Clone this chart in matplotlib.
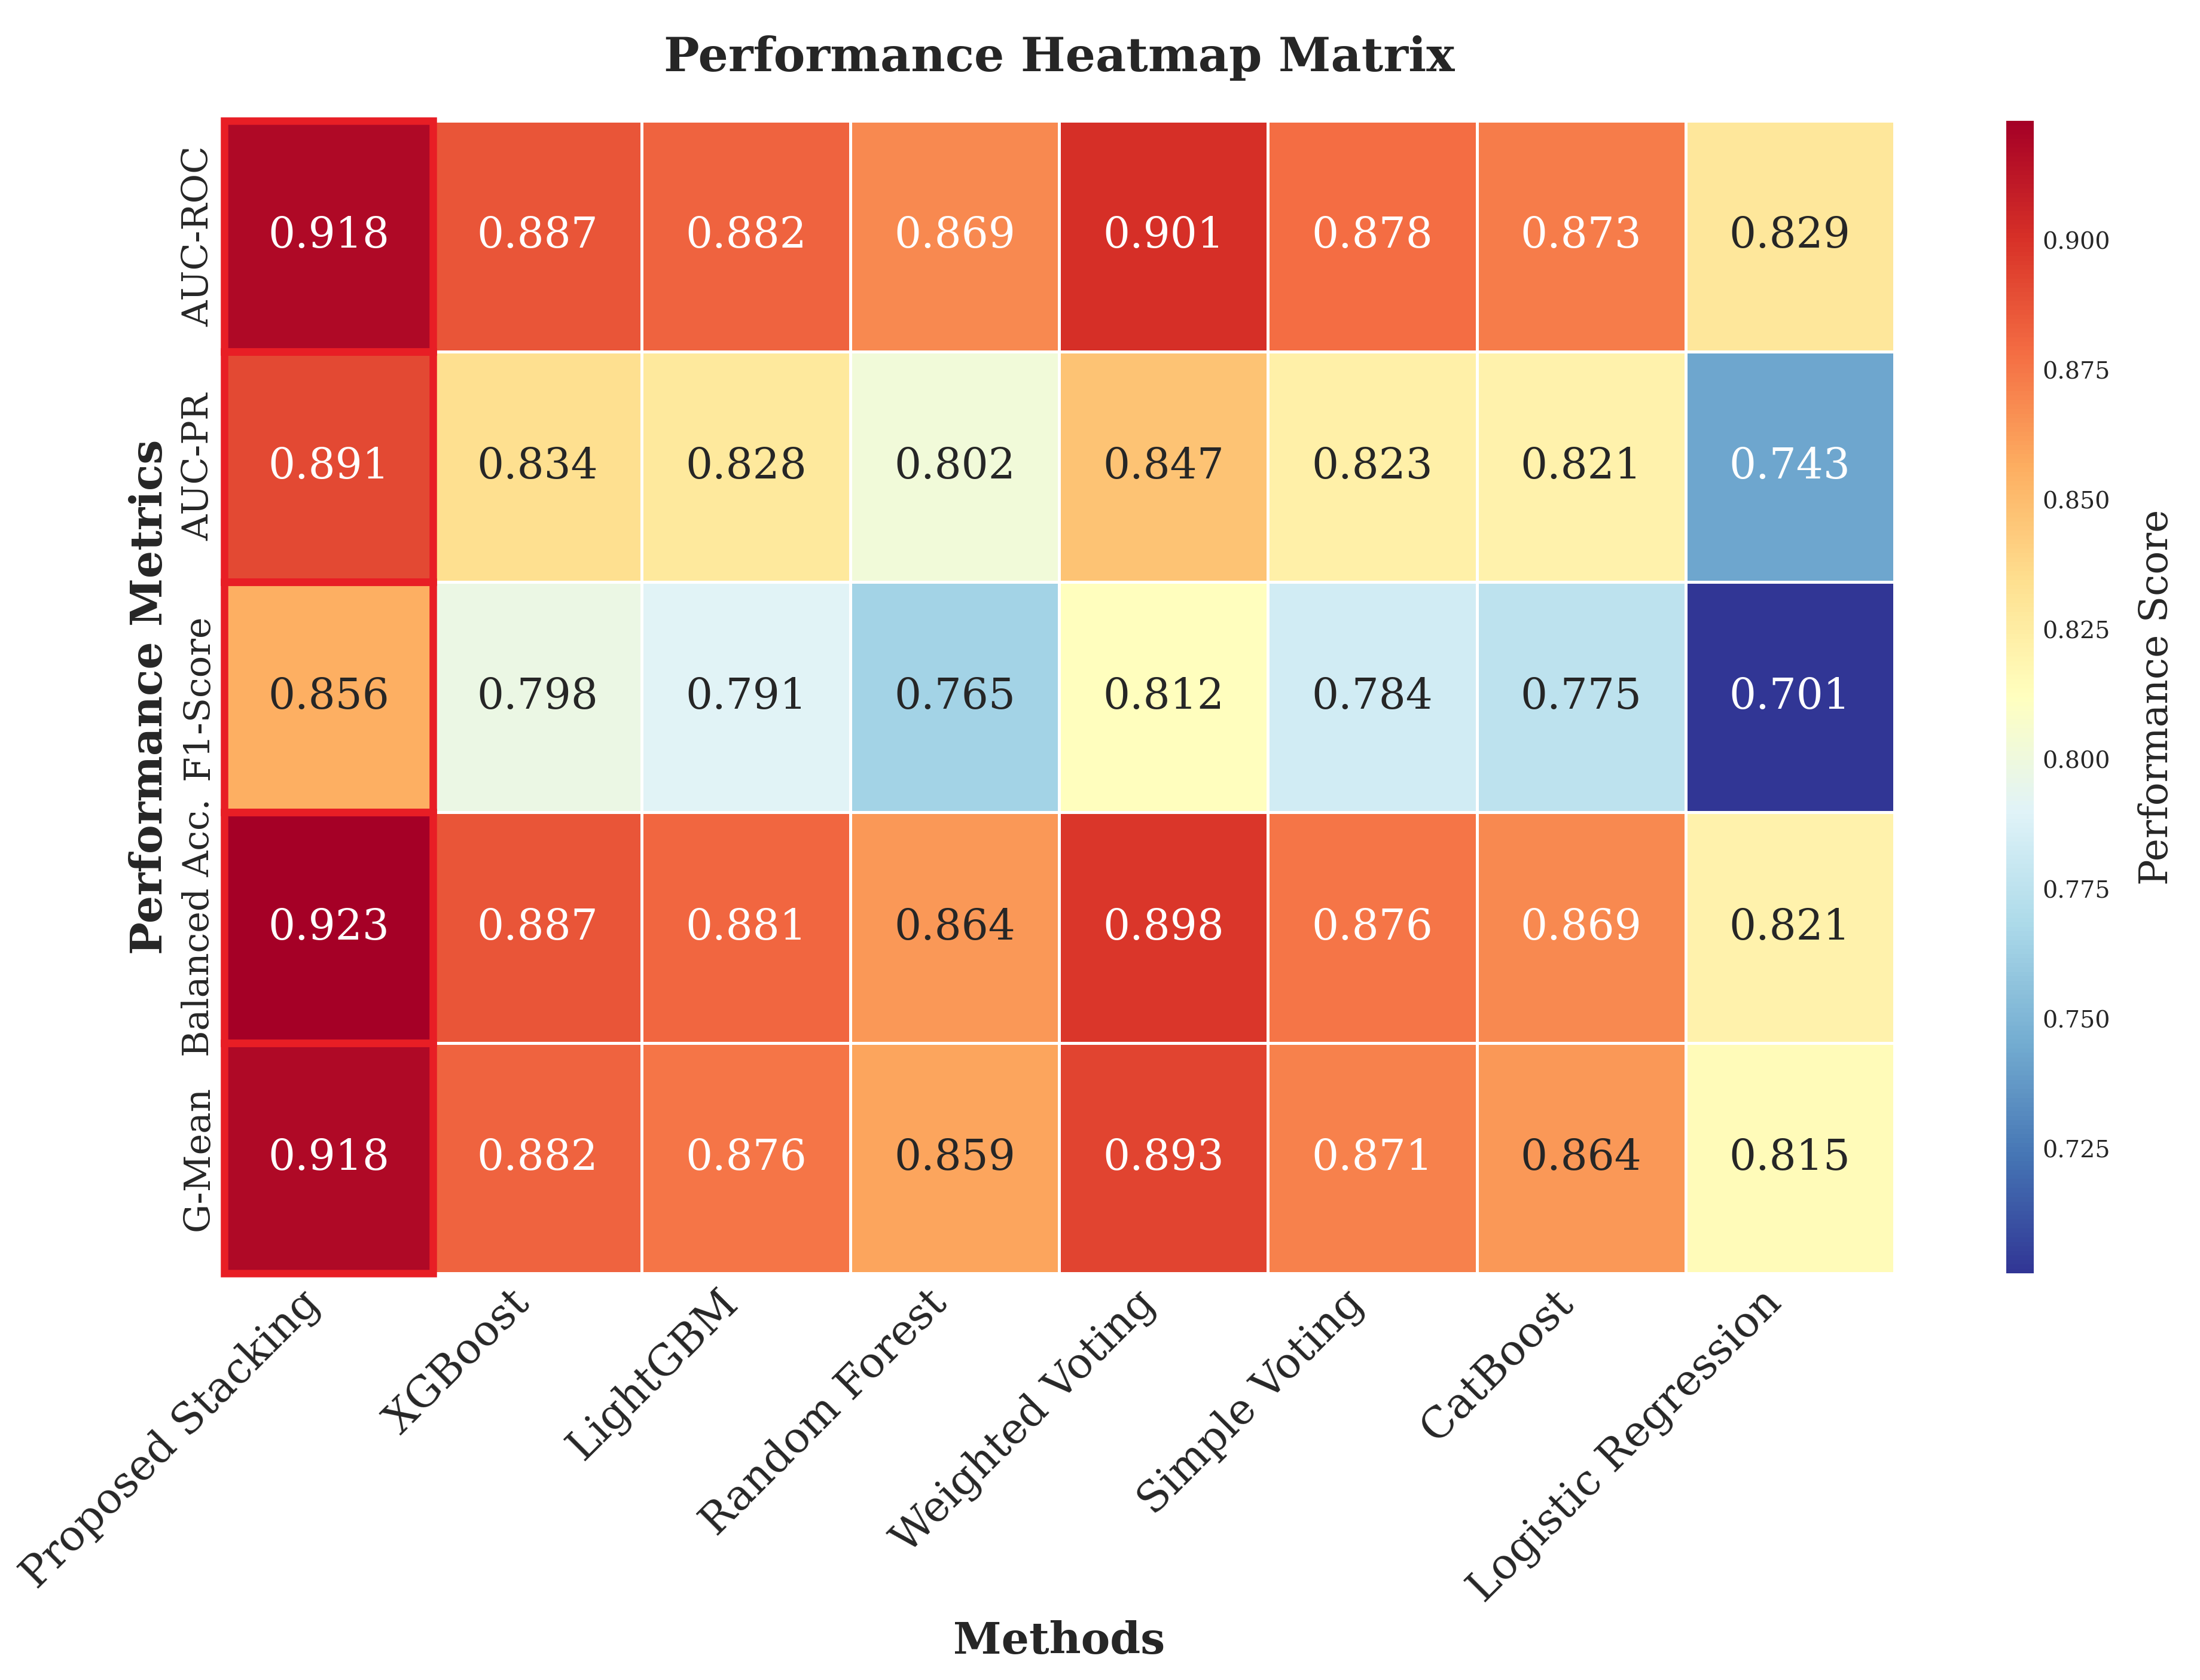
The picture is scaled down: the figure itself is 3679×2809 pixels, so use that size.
import numpy as np
import pandas as pd
import seaborn as sns
from matplotlib import pyplot as plt
from matplotlib.patches import Rectangle

# Data.
methods = ['Proposed Stacking', 'XGBoost', 'LightGBM', 'Random Forest',
           'Weighted Voting', 'Simple Voting', 'CatBoost', 'Logistic Regression']
metrics = ['AUC-ROC', 'AUC-PR', 'F1-Score', 'Balanced Acc.', 'G-Mean']
auc_roc = [0.918, 0.887, 0.882, 0.869, 0.901, 0.878, 0.873, 0.829]
auc_pr = [0.891, 0.834, 0.828, 0.802, 0.847, 0.823, 0.821, 0.743]
f1_score = [0.856, 0.798, 0.791, 0.765, 0.812, 0.784, 0.775, 0.701]
balanced_acc = [0.923, 0.887, 0.881, 0.864, 0.898, 0.876, 0.869, 0.821]
g_mean = [0.918, 0.882, 0.876, 0.859, 0.893, 0.871, 0.864, 0.815]

sns.set_style('white')
plt.rcParams['font.family'] = ['DejaVu Serif']

data = pd.DataFrame([auc_roc, auc_pr, f1_score, balanced_acc, g_mean],
                    index=metrics, columns=methods)

fig = plt.figure(figsize=(3679 / 300, 2809 / 300), dpi=300)
ax = fig.add_axes([0.102, 0.242, 0.759, 0.686])
cax = fig.add_axes([0.912, 0.242, 0.0125, 0.686])

sns.heatmap(data, ax=ax, cbar_ax=cax, cmap='RdYlBu_r', annot=True, fmt='.3f',
            annot_kws={'size': 17}, linewidths=0.8, linecolor='white')

# Highlight the proposed method column.
for i in range(len(metrics)):
    ax.add_patch(Rectangle((0, i), 1, 1, fill=False, edgecolor='#e81e25',
                           lw=3, clip_on=False))

ax.set_title('Performance Heatmap Matrix', fontsize=19, fontweight='bold', pad=20)
ax.set_xlabel('Methods', fontsize=17.5, fontweight='bold')
ax.set_ylabel('Performance Metrics', fontsize=17.5, fontweight='bold')
ax.set_xticklabels(methods, rotation=45, ha='right', fontsize=17)
ax.set_yticklabels(metrics, rotation=90, va='center', fontsize=14.5)
ax.tick_params(length=0)

cax.tick_params(labelsize=9.5, length=0)
cax.set_ylabel('Performance Score', fontsize=15.5, labelpad=11)
cax.set_yticks([0.725, 0.75, 0.775, 0.8, 0.825, 0.85, 0.875, 0.9])

fig.savefig('out.png', dpi=300)
